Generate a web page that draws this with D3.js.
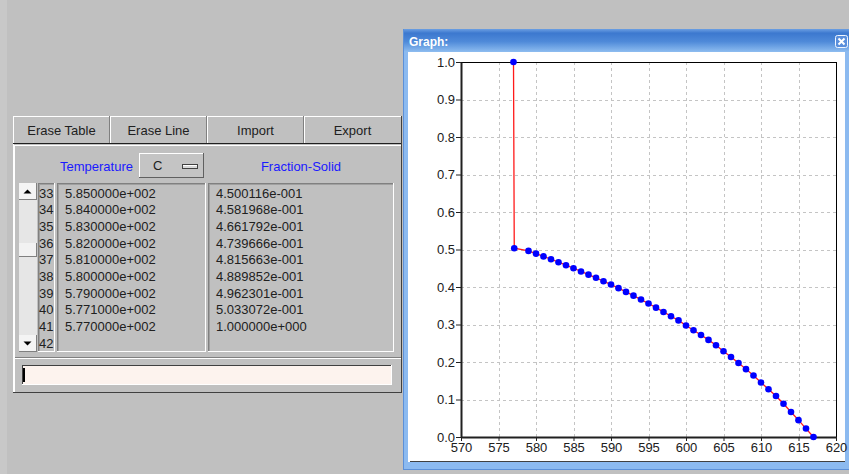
<!DOCTYPE html>
<html>
<head>
<meta charset="utf-8">
<script src="https://cdn.jsdelivr.net/npm/d3@7"></script>
<style>
	html, body { margin: 0; padding: 0; background: #c0c0c0; }
	svg { display: block; font-family: "Liberation Sans", Arial, sans-serif; }
</style>
</head>
<body>
<svg id="screen" width="849" height="474"></svg>
<script>
/**
 * Data: temperature (C) vs fraction solid.
 */
const temperatures = [
	617, 616, 615, 614, 613, 612, 611, 610, 609, 608,
	607, 606, 605, 604, 603, 602, 601, 600, 599, 598,
	597, 596, 595, 594, 593, 592, 591, 590, 589, 588,
	587, 586, 585, 584, 583, 582, 581, 580, 579, 577.1,
	577,
];
const fractionSolid = [
	0.0, 0.0225, 0.0450, 0.0668, 0.0885, 0.1095, 0.1275, 0.1455, 0.1640, 0.1810,
	0.1975, 0.2135, 0.2285, 0.2445, 0.2590, 0.2720, 0.2845, 0.2975, 0.3110, 0.3220,
	0.3335, 0.3450, 0.3560, 0.3665, 0.3770, 0.3870, 0.3970, 0.4065, 0.4155, 0.4245,
	0.4330, 0.4415, 0.4500116, 0.4581968, 0.4661792, 0.4739666, 0.4815663, 0.4889852, 0.4962301, 0.5033072,
	1.0,
];
const xTicks = [ 570, 575, 580, 585, 590, 595, 600, 605, 610, 615, 620 ];
const yTicks = [ 0, 0.1, 0.2, 0.3, 0.4, 0.5, 0.6, 0.7, 0.8, 0.9, 1.0 ];
const buttonLabels = [ 'Erase Table', 'Erase Line', 'Import', 'Export' ];
const visibleRows = [ 33, 34, 35, 36, 37, 38, 39, 40, 41, 42 ];

const svg = d3.select( '#screen' );

// Java style exponent: 5.850000e+002
function javaExp( v ) {
	const [ mant, exp ] = v.toExponential( 6 ).split( 'e' );
	const sign = exp[ 0 ];
	const digits = exp.slice( 1 ).padStart( 3, '0' );
	return `${ mant }e${ sign }${ digits }`;
}

function hline( g, x1, x2, y, color ) {
	g.append( 'line' ).attr( 'x1', x1 ).attr( 'x2', x2 ).attr( 'y1', y ).attr( 'y2', y )
		.attr( 'stroke', color ).attr( 'stroke-width', 1 );
}

function vline( g, x, y1, y2, color ) {
	g.append( 'line' ).attr( 'x1', x ).attr( 'x2', x ).attr( 'y1', y1 ).attr( 'y2', y2 )
		.attr( 'stroke', color ).attr( 'stroke-width', 1 );
}

// sunken box: dark top/left, light bottom/right
function sunken( g, x, y, w, h, fill ) {
	g.append( 'rect' ).attr( 'x', x ).attr( 'y', y ).attr( 'width', w ).attr( 'height', h )
		.attr( 'fill', fill );
	hline( g, x, x + w, y + 0.5, '#808080' );
	vline( g, x + 0.5, y, y + h, '#808080' );
	hline( g, x + 1, x + w - 1, y + 1.5, '#a0a0a0' );
	vline( g, x + 1.5, y + 1, y + h - 1, '#a0a0a0' );
	hline( g, x, x + w, y + h - 0.5, '#ffffff' );
	vline( g, x + w - 0.5, y, y + h, '#ffffff' );
}

/**
 * Left: table editor panel
 */
function drawTablePanel() {
	const g = svg.append( 'g' );
	const left = 13, right = 401, top = 116, bottom = 392;

	g.append( 'rect' ).attr( 'x', 0 ).attr( 'y', 0 ).attr( 'width', 7 ).attr( 'height', 474 )
		.attr( 'fill', '#c8c8c8' );

	// outer frame
	hline( g, left, right, top + 0.5, '#ffffff' );
	vline( g, left + 0.5, top, bottom, '#ffffff' );
	hline( g, left, right + 1, bottom + 0.5, '#404040' );
	vline( g, right + 0.5, top, bottom + 1, '#404040' );

	// button row
	const bx = d3.scaleBand().domain( buttonLabels ).range( [ left, right ] );
	buttonLabels.forEach( ( label, i ) => {
		const x = bx( label );
		if ( i > 0 ) {
			vline( g, x - 0.5, top, 144, '#808080' );
			vline( g, x + 0.5, top + 1, 144, '#ffffff' );
		}
		g.append( 'text' ).attr( 'x', x + bx.bandwidth() / 2 ).attr( 'y', 135 )
			.attr( 'text-anchor', 'middle' ).attr( 'font-size', 13 ).attr( 'fill', '#202020' )
			.text( label );
	} );
	hline( g, left, right, 143.5, '#202020' );
	hline( g, left + 1, right, 145.5, '#ffffff' );
	vline( g, left + 1.5, 145, bottom, '#ffffff' );

	// column headers
	g.append( 'text' ).attr( 'x', 60 ).attr( 'y', 171 ).attr( 'font-size', 13 )
		.attr( 'fill', '#1a1aff' ).text( 'Temperature' );
	g.append( 'text' ).attr( 'x', 301 ).attr( 'y', 171 ).attr( 'font-size', 13 )
		.attr( 'text-anchor', 'middle' ).attr( 'fill', '#1a1aff' ).text( 'Fraction-Solid' );

	// unit combo
	g.append( 'rect' ).attr( 'x', 139 ).attr( 'y', 153 ).attr( 'width', 65 ).attr( 'height', 25 )
		.attr( 'fill', '#c4c4c4' );
	hline( g, 139, 204, 153.5, '#ffffff' );
	vline( g, 139.5, 153, 178, '#ffffff' );
	hline( g, 139, 204, 177.5, '#606060' );
	vline( g, 203.5, 153, 178, '#606060' );
	g.append( 'text' ).attr( 'x', 153 ).attr( 'y', 170 ).attr( 'font-size', 13 )
		.attr( 'fill', '#202020' ).text( 'C' );
	g.append( 'rect' ).attr( 'x', 182.5 ).attr( 'y', 164.5 ).attr( 'width', 15 ).attr( 'height', 4 )
		.attr( 'fill', '#d8d8d8' ).attr( 'stroke', '#404040' ).attr( 'stroke-width', 1 );
	hline( g, 183, 197, 165.5, '#ffffff' );

	// table columns
	sunken( g, 38, 183, 17, 169, '#c0c0c0' );
	sunken( g, 57, 183, 149, 169, '#c0c0c0' );
	sunken( g, 208, 183, 186, 169, '#c0c0c0' );

	const rowY = d3.scaleLinear().domain( [ 33, 42 ] ).range( [ 197.5, 347.5 ] );
	visibleRows.forEach( ( row ) => {
		const y = rowY( row );
		g.append( 'text' ).attr( 'x', 39 ).attr( 'y', y ).attr( 'font-size', 13 )
			.attr( 'fill', '#202020' ).text( row );
		const i = row - 1;
		if ( i < temperatures.length ) {
			g.append( 'text' ).attr( 'x', 65 ).attr( 'y', y ).attr( 'font-size', 13 )
				.attr( 'fill', '#202020' ).text( javaExp( temperatures[ i ] ) );
			g.append( 'text' ).attr( 'x', 216 ).attr( 'y', y ).attr( 'font-size', 13 )
				.attr( 'fill', '#202020' ).text( javaExp( fractionSolid[ i ] ) );
		}
	} );

	// scrollbar
	g.append( 'rect' ).attr( 'x', 19 ).attr( 'y', 183 ).attr( 'width', 18 ).attr( 'height', 169 )
		.attr( 'fill', '#e6e6e6' );
	const arrowBtn = ( y, up ) => {
		g.append( 'rect' ).attr( 'x', 19 ).attr( 'y', y ).attr( 'width', 18 ).attr( 'height', 17 )
			.attr( 'fill', '#f4f4f4' );
		hline( g, 19, 37, y + 16.5, '#808080' );
		vline( g, 36.5, y, y + 17, '#808080' );
		const cx = 27.5, cy = y + 8.5;
		const pts = up
			? [ [ cx - 4, cy + 2 ], [ cx + 4, cy + 2 ], [ cx, cy - 2 ] ]
			: [ [ cx - 4, cy - 2 ], [ cx + 4, cy - 2 ], [ cx, cy + 2 ] ];
		g.append( 'path' ).attr( 'd', d3.line()( pts ) + 'Z' ).attr( 'fill', '#000' );
	};
	arrowBtn( 183, true );
	arrowBtn( 335, false );
	g.append( 'rect' ).attr( 'x', 19 ).attr( 'y', 243 ).attr( 'width', 18 ).attr( 'height', 14 )
		.attr( 'fill', '#f2f2f2' );
	hline( g, 19, 37, 256.5, '#808080' );
	vline( g, 36.5, 243, 257, '#808080' );

	// separator and input field
	hline( g, left + 2, right, 357.5, '#808080' );
	hline( g, left + 2, right, 358.5, '#ffffff' );
	g.append( 'rect' ).attr( 'x', 22 ).attr( 'y', 365 ).attr( 'width', 370 ).attr( 'height', 20 )
		.attr( 'fill', '#fdf3ee' );
	hline( g, 22, 392, 365.5, '#404040' );
	vline( g, 22.5, 365, 385, '#404040' );
	hline( g, 22, 392, 384.5, '#ffffff' );
	vline( g, 391.5, 365, 385, '#ffffff' );
	g.append( 'rect' ).attr( 'x', 23 ).attr( 'y', 368 ).attr( 'width', 2 ).attr( 'height', 14 )
		.attr( 'fill', '#000' );
}

/**
 * Right: graph window with the fraction solid curve
 */
function drawGraphWindow() {
	const g = svg.append( 'g' );
	const defs = svg.append( 'defs' );
	const grad = defs.append( 'linearGradient' ).attr( 'id', 'title' )
		.attr( 'x1', 0 ).attr( 'y1', 0 ).attr( 'x2', 0 ).attr( 'y2', 1 );
	grad.append( 'stop' ).attr( 'offset', '0%' ).attr( 'stop-color', '#6c9fe2' );
	grad.append( 'stop' ).attr( 'offset', '18%' ).attr( 'stop-color', '#3c78cf' );
	grad.append( 'stop' ).attr( 'offset', '55%' ).attr( 'stop-color', '#4f8ad9' );
	grad.append( 'stop' ).attr( 'offset', '100%' ).attr( 'stop-color', '#8ebdf0' );

	g.append( 'rect' ).attr( 'x', 403 ).attr( 'y', 29 ).attr( 'width', 446 ).attr( 'height', 441 )
		.attr( 'fill', '#8cbaf0' );
	vline( g, 403.5, 29, 470, '#5c90d8' );
	hline( g, 403, 849, 469.5, '#5c90d8' );
	g.append( 'rect' ).attr( 'x', 404 ).attr( 'y', 29 ).attr( 'width', 445 ).attr( 'height', 23 )
		.attr( 'fill', 'url(#title)' );
	g.append( 'text' ).attr( 'x', 409 ).attr( 'y', 46 ).attr( 'font-size', 12 )
		.attr( 'font-weight', 'bold' ).attr( 'fill', '#ffffff' ).text( 'Graph:' );

	// close button
	g.append( 'rect' ).attr( 'x', 835.5 ).attr( 'y', 35.5 ).attr( 'width', 12 ).attr( 'height', 12 )
		.attr( 'rx', 2 ).attr( 'fill', '#5a8fdc' ).attr( 'stroke', '#f0f6ff' );
	g.append( 'path' ).attr( 'd', 'M838.5,38.5L844.5,44.5M844.5,38.5L838.5,44.5' )
		.attr( 'stroke', '#ffffff' ).attr( 'stroke-width', 2 );

	// content area
	g.append( 'rect' ).attr( 'x', 408 ).attr( 'y', 52 ).attr( 'width', 437 ).attr( 'height', 410 )
		.attr( 'fill', '#ffffff' );
	hline( g, 410, 845, 461.5, '#404040' );

	const x = d3.scaleLinear().domain( [ 570, 620 ] ).range( [ 461, 836 ] );
	const y = d3.scaleLinear().domain( [ 0, 1 ] ).range( [ 437, 62 ] );

	// grid
	const grid = g.append( 'g' ).attr( 'stroke', '#c4c4c4' ).attr( 'stroke-dasharray', '3,3' );
	xTicks.slice( 1, -1 ).forEach( ( t ) => {
		grid.append( 'line' ).attr( 'x1', Math.round( x( t ) ) + 0.5 ).attr( 'x2', Math.round( x( t ) ) + 0.5 )
			.attr( 'y1', y( 1 ) ).attr( 'y2', y( 0 ) );
	} );
	yTicks.slice( 1, -1 ).forEach( ( t ) => {
		grid.append( 'line' ).attr( 'y1', Math.round( y( t ) ) + 0.5 ).attr( 'y2', Math.round( y( t ) ) + 0.5 )
			.attr( 'x1', x( 570 ) ).attr( 'x2', x( 620 ) );
	} );

	// frame top/right
	hline( g, x( 570 ), x( 620 ) + 1, y( 1 ) + 0.5, '#000' );
	vline( g, x( 620 ) + 0.5, y( 1 ), y( 0 ), '#000' );

	// axes
	const axisFont = ( sel ) => sel.selectAll( 'text' ).attr( 'font-size', 13 )
		.attr( 'fill', '#202020' ).attr( 'font-family', '"Liberation Sans", Arial, sans-serif' );
	const xAxis = g.append( 'g' ).attr( 'transform', `translate(0,${ y( 0 ) })` )
		.call( d3.axisBottom( x ).tickValues( xTicks ).tickFormat( d3.format( 'd' ) )
			.tickSize( 4 ).tickSizeOuter( 0 ).tickPadding( 2 ) );
	xAxis.call( axisFont );
	xAxis.select( '.domain' ).attr( 'stroke', '#202020' ).attr( 'stroke-width', 2 );
	xAxis.selectAll( '.tick line' ).attr( 'stroke', '#202020' );

	const yAxis = g.append( 'g' ).attr( 'transform', `translate(${ x( 570 ) },0)` )
		.call( d3.axisLeft( y ).tickValues( yTicks ).tickFormat( d3.format( '.1f' ) )
			.tickSize( 5 ).tickSizeOuter( 0 ).tickPadding( 1 ) );
	yAxis.call( axisFont );
	yAxis.select( '.domain' ).attr( 'stroke', '#202020' ).attr( 'stroke-width', 2 );
	yAxis.selectAll( '.tick line' ).attr( 'stroke', '#202020' );

	// series
	const points = temperatures.map( ( t, i ) => [ t, fractionSolid[ i ] ] );
	g.append( 'path' ).datum( points )
		.attr( 'd', d3.line().x( ( d ) => x( d[ 0 ] ) ).y( ( d ) => y( d[ 1 ] ) ) )
		.attr( 'fill', 'none' ).attr( 'stroke', '#ff1a1a' ).attr( 'stroke-width', 1.3 );
	g.append( 'g' ).selectAll( 'circle' ).data( points ).join( 'circle' )
		.attr( 'cx', ( d ) => x( d[ 0 ] ) )
		.attr( 'cy', ( d ) => y( d[ 1 ] ) )
		.attr( 'r', 3.3 )
		.attr( 'fill', '#0000ff' );
}

drawTablePanel();
drawGraphWindow();
</script>
</body>
</html>
